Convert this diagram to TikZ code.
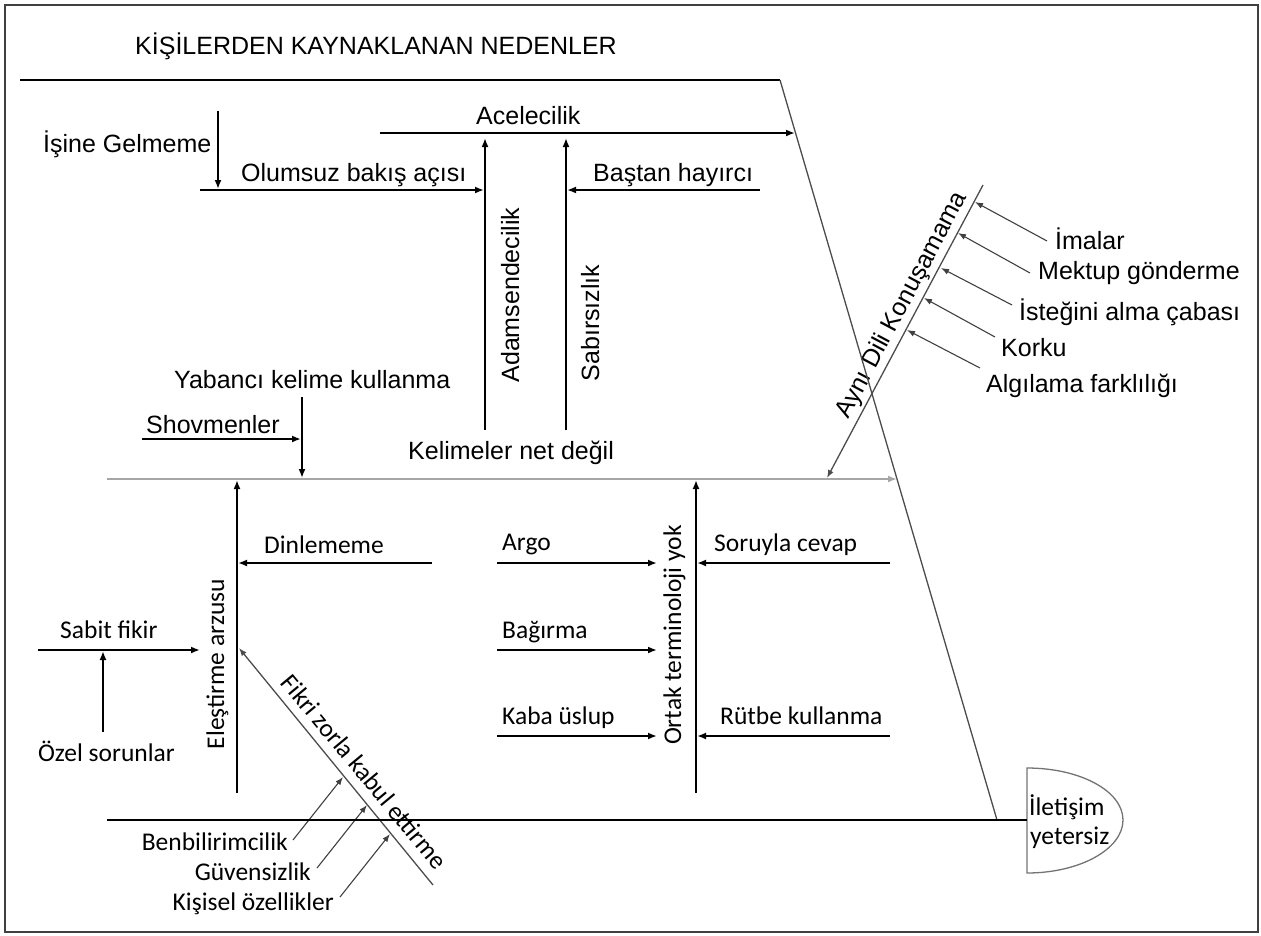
\documentclass[tikz,border=0pt]{standalone}
\usepackage{fontspec}
\setmainfont{Liberation Sans}
\newfontfamily\calfont{Carlito}
\usetikzlibrary{arrows.meta}

\begin{document}
\begin{tikzpicture}[x=1pt,y=-1pt,
  ar/.style={font=\fontsize{25}{30}\selectfont, inner sep=0pt, text height=18pt, text depth=0pt},
  ca/.style={font=\calfont\fontsize{25.5}{30}\selectfont, inner sep=0pt, text height=16.4pt, text depth=0pt},
  bone/.style={line width=1.8pt, black},
  spine/.style={line width=2.2pt, black!35},
  slant/.style={line width=1.3pt, black!70},
  twig/.style={line width=1.1pt, black!75},
  arr/.style={-{Latex[length=9pt,width=7pt]}},
  sarr/.style={-{Latex[length=8pt,width=6pt]}},
]
\useasboundingbox (0,0) rectangle (1261,935);
\draw[line width=2.2pt, black!75] (5,5) rectangle (1258,932);

% ---------- labels (Arial-like) ----------
\node[ar, anchor=west] (title) at (135,45) {KİŞİLERDEN KAYNAKLANAN NEDENLER};
\node[ar, anchor=west] (acel) at (476,115) {Acelecilik};
\node[ar, anchor=west] (isine) at (43,143) {İşine Gelmeme};
\node[ar, anchor=west] (olumsuz) at (241,172) {Olumsuz bakış açısı};
\node[ar, anchor=west] (bastan) at (593,172) {Baştan hayırcı};
\node[ar, rotate=90] (adam) at (510,295) {Adamsendecilik};
\node[ar, rotate=90] (sabir) at (590,323) {Sabırsızlık};
\node[ar, anchor=west] (yabanci) at (174,379) {Yabancı kelime kullanma};
\node[ar, anchor=west] (shov) at (146,424) {Shovmenler};
\node[ar, anchor=west] (kelime) at (408,450) {Kelimeler net değil};
\node[ar, rotate=62] (ayni) at (900,304) {Aynı Dili Konuşamama};
\node[ar, anchor=west] (ima) at (1055,240) {İmalar};
\node[ar, anchor=west] (mektup) at (1038,270) {Mektup gönderme};
\node[ar, anchor=west] (istek) at (1019,311) {İsteğini alma çabası};
\node[ar, anchor=west] (korku) at (1001,347) {Korku};
\node[ar, anchor=west] (algi) at (986,383) {Algılama farklılığı};

% ---------- labels (Calibri-like) ----------
\node[ca, anchor=west] (dinle) at (264,545) {Dinlememe};
\node[ca, anchor=west] (argo) at (502,542) {Argo};
\node[ca, anchor=west] (bagir) at (502,630) {Bağırma};
\node[ca, anchor=west] (kaba) at (502,716) {Kaba üslup};
\node[ca, anchor=west] (soru) at (714,543) {Soruyla cevap};
\node[ca, anchor=west] (rutbe) at (720,716) {Rütbe kullanma};
\node[ca, rotate=90] (ortak) at (673,635) {Ortak terminoloji yok};
\node[ca, rotate=90] (elest) at (216,664) {Eleştirme arzusu};
\node[ca, anchor=west] (sabit) at (60,630) {Sabit fikir};
\node[ca, anchor=west] (ozel) at (38,753) {Özel sorunlar};
\node[ca, rotate=-50.3] (fikri) at (364,772) {Fikri zorla kabul ettirme};
\node[ca, anchor=east] (benbil) at (288,842) {Benbilirimcilik};
\node[ca, anchor=east] (guven) at (311,872) {Güvensizlik};
\node[ca, anchor=east] (kisisel) at (334,902) {Kişisel özellikler};

% ---------- head ----------
\coordinate (headT) at (1027,768);
\coordinate (headB) at (1027,873);
\coordinate (headR) at (1123,820);
\coordinate (headL) at (1027,820);
\draw[line width=1.3pt, black!55] (headT) .. controls (1080,768) and (1123,791) .. (headR)
  .. controls (1123,849) and (1080,873) .. (headB) -- cycle;
\node[ca, anchor=west] (head1) at (1029,807) {İletişim};
\node[ca, anchor=west] (head2) at (1030,836) {yetersiz};

% ---------- frame of the upper group ----------
\coordinate (topL) at (20,80);
\coordinate (topR) at (780,80);
\coordinate (slantB) at (997,820);
\draw[bone] (topL) -- (topR);
\draw[slant] (topR) -- (slantB);

% ---------- upper bones ----------
\coordinate (acelL) at (380,133);  \coordinate (acelR) at (795,133);
\draw[bone, arr] (acelL) -- (acelR);
\coordinate (adamB) at (485,430);  \coordinate (adamT) at (485,138);
\draw[bone, arr] (adamB) -- (adamT);
\coordinate (sabirB) at (566,430); \coordinate (sabirT) at (566,138);
\draw[bone, arr] (sabirB) -- (sabirT);
\coordinate (olumL) at (200,190);  \coordinate (olumR) at (484,190);
\draw[bone, arr] (olumL) -- (olumR);
\coordinate (isineT) at (218,111); \coordinate (isineB) at (218,189);
\draw[bone, arr] (isineT) -- (isineB);
\coordinate (bastR) at (760,190);  \coordinate (bastL) at (567,190);
\draw[bone, arr] (bastR) -- (bastL);
\coordinate (yabT) at (302,397);   \coordinate (yabB) at (302,478);
\draw[bone, arr] (yabT) -- (yabB);
\coordinate (shovL) at (142,439);  \coordinate (shovR) at (301,439);
\draw[bone, arr] (shovL) -- (shovR);

% ---------- middle spine ----------
\coordinate (spL) at (107,479);  \coordinate (spR) at (897,479);
\draw[spine, arr] (spL) -- (spR);

% ---------- Aynı Dili Konuşamama ----------
\coordinate (ayT) at (983,185);  \coordinate (ayB) at (827,478);
\draw[slant, sarr] (ayT) -- (ayB);
\coordinate (t1) at (1047,241); \coordinate (h1) at (975,202);
\coordinate (t2) at (1030,273); \coordinate (h2) at (958,233);
\coordinate (t3) at (1012,305); \coordinate (h3) at (941,268);
\coordinate (t4) at (995,337);  \coordinate (h4) at (924,298);
\coordinate (t5) at (980,368);  \coordinate (h5) at (907,330);
\foreach \i in {1,...,5} \draw[twig, sarr] (t\i) -- (h\i);

% ---------- lower bones ----------
\coordinate (elB) at (237,793);  \coordinate (elT) at (237,480);
\draw[bone, arr] (elB) -- (elT);
\coordinate (dinR) at (432,563); \coordinate (dinL) at (238,563);
\draw[bone, arr] (dinR) -- (dinL);
\coordinate (sabL) at (38,650);  \coordinate (sabR) at (200,650);
\draw[bone, arr] (sabL) -- (sabR);
\coordinate (ozB) at (103,732);  \coordinate (ozT) at (103,651);
\draw[bone, arr] (ozB) -- (ozT);

\coordinate (fkB) at (433,885);  \coordinate (fkT) at (239,648);
\draw[slant, sarr] (fkB) -- (fkT);
\coordinate (b1) at (293,840); \coordinate (c1) at (343,777);
\coordinate (b2) at (317,868); \coordinate (c2) at (367,805);
\coordinate (b3) at (340,897); \coordinate (c3) at (390,834);
\foreach \i in {1,2,3} \draw[twig, sarr] (b\i) -- (c\i);

\coordinate (orB) at (696,793);  \coordinate (orT) at (696,480);
\draw[bone, arr] (orB) -- (orT);
\coordinate (argL) at (497,563); \coordinate (argR) at (657,563);
\draw[bone, arr] (argL) -- (argR);
\coordinate (bagL) at (497,650); \coordinate (bagR) at (657,650);
\draw[bone, arr] (bagL) -- (bagR);
\coordinate (kabL) at (497,736); \coordinate (kabR) at (657,736);
\draw[bone, arr] (kabL) -- (kabR);
\coordinate (sorR) at (890,563); \coordinate (sorL) at (697,563);
\draw[bone, arr] (sorR) -- (sorL);
\coordinate (rutR) at (890,736); \coordinate (rutL) at (697,736);
\draw[bone, arr] (rutR) -- (rutL);

% ---------- lower spine ----------
\coordinate (bsL) at (107,820);
\draw[bone] (bsL) -- (headL);
\end{tikzpicture}
\end{document}
